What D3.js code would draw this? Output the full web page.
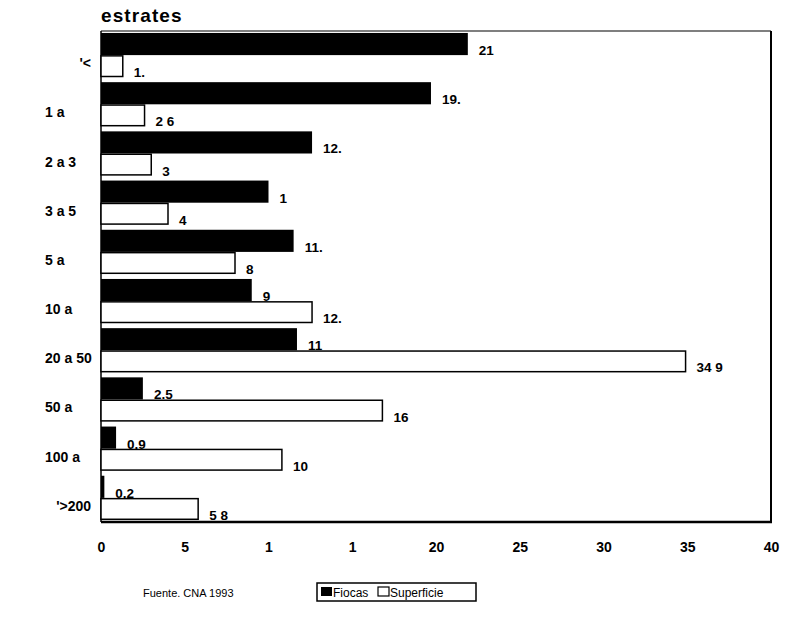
<!DOCTYPE html>
<html>
<head>
<meta charset="utf-8">
<script src="https://cdn.jsdelivr.net/npm/d3@7/dist/d3.min.js"></script>
<style>
  body { margin: 0; background: #fff; }
  svg text { font-family: "Liberation Sans", Arial, Helvetica, sans-serif; fill: #000; }
</style>
</head>
<body>
<svg id="chart" width="787" height="627"></svg>
<script>
// Size strata (ha) and the two series, in % of totals
const categories = ["'<", "1 a", "2 a 3", "3 a 5", "5 a", "10 a", "20 a 50", "50 a", "100 a", "'>200"];
const fincas = [21.9, 19.7, 12.6, 10.0, 11.5, 9.0, 11.7, 2.5, 0.9, 0.2];
const fincasLabels = ["21", "19.", "12.", "1", "11.", "9", "11", "2.5", "0.9", "0.2"];
const superficie = [1.3, 2.6, 3.0, 4.0, 8.0, 12.6, 34.9, 16.8, 10.8, 5.8];
const superficieLabels = ["1.", "2 6", "3", "4", "8", "12.", "34 9", "16", "10", "5 8"];
const xTicks = [0, 5, 10, 15, 20, 25, 30, 35, 40];
const xTickLabels = ["0", "5", "1", "1", "20", "25", "30", "35", "40"];
const seriesNames = ["Fiocas", "Superficie"];

const svg = d3.select("#chart");
const plot = { left: 101, right: 771, top: 31, bottom: 522 };

const x = d3.scaleLinear().domain([0, 40]).range([plot.left, plot.right]);
const y = d3.scaleBand().domain(categories).range([plot.top, plot.bottom])
  .paddingInner(0.1).paddingOuter(0.04);
const sub = d3.scaleBand().domain(["fincas", "superficie"]).range([0, y.bandwidth()]);

const rows = categories.map((c, i) => ({
  cat: c, f: fincas[i], fl: fincasLabels[i], s: superficie[i], sl: superficieLabels[i]
}));

// Title
svg.append("text").attr("x", plot.left).attr("y", 22)
  .attr("font-size", 19).attr("font-weight", "bold").attr("letter-spacing", 1.1)
  .text("estrates");

// Plot frame
const frame = svg.append("g").attr("fill", "none").attr("stroke", "#000");
frame.append("line").attr("x1", plot.left).attr("x2", plot.right).attr("y1", plot.top).attr("y2", plot.top).attr("stroke-width", 1.2);
frame.append("line").attr("x1", plot.right).attr("x2", plot.right).attr("y1", plot.top).attr("y2", plot.bottom).attr("stroke-width", 2);
frame.append("line").attr("x1", plot.left).attr("x2", plot.right + 1).attr("y1", plot.bottom).attr("y2", plot.bottom).attr("stroke-width", 2.5);
frame.append("line").attr("x1", plot.left).attr("x2", plot.left).attr("y1", plot.top).attr("y2", plot.bottom).attr("stroke-width", 1.5);

// Bars
const g = svg.append("g");
const groups = g.selectAll("g.row").data(rows).join("g")
  .attr("transform", d => `translate(0,${y(d.cat)})`);

groups.append("rect")
  .attr("x", x(0)).attr("y", sub("fincas"))
  .attr("width", d => x(d.f) - x(0)).attr("height", sub.bandwidth())
  .attr("fill", "#000");

groups.append("rect")
  .attr("x", x(0)).attr("y", sub("superficie") + 0.75)
  .attr("width", d => x(d.s) - x(0)).attr("height", sub.bandwidth() - 1.5)
  .attr("fill", "#fff").attr("stroke", "#000").attr("stroke-width", 1.5);

// Value labels
groups.append("text")
  .attr("x", d => x(d.f) + 11).attr("y", sub("fincas") + sub.bandwidth())
  .attr("font-size", 13.5).attr("font-weight", "bold")
  .text(d => d.fl);
groups.append("text")
  .attr("x", d => x(d.s) + 11).attr("y", sub("superficie") + sub.bandwidth())
  .attr("font-size", 13.5).attr("font-weight", "bold")
  .text(d => d.sl);

// Category labels: plain ones start at a common left edge,
// apostrophe-prefixed ones sit flush against the axis
svg.append("g").selectAll("text").data(categories).join("text")
  .attr("x", d => d.startsWith("'") ? 91 : 45)
  .attr("text-anchor", d => d.startsWith("'") ? "end" : "start")
  .attr("y", d => y(d) + y.bandwidth() / 2 + 13)
  .attr("font-size", 14).attr("font-weight", "bold")
  .text(d => d);

// X axis
const xAxis = d3.axisBottom(x).tickValues(xTicks).tickSize(0)
  .tickFormat((d, i) => xTickLabels[i]);
const ax = svg.append("g").attr("transform", `translate(0,${plot.bottom})`).call(xAxis);
ax.select(".domain").remove();
ax.selectAll("text").attr("dy", 0).attr("y", 30)
  .attr("font-size", 14).attr("font-weight", "bold")
  .attr("font-family", "Liberation Sans, Arial, sans-serif");

// Source note
svg.append("text").attr("x", 143).attr("y", 597).attr("font-size", 11)
  .text("Fuente. CNA 1993");

// Legend
const lg = svg.append("g").attr("transform", "translate(317,583)");
lg.append("rect").attr("width", 159).attr("height", 18)
  .attr("fill", "#fff").attr("stroke", "#000").attr("stroke-width", 1.5);
lg.append("rect").attr("x", 4).attr("y", 4).attr("width", 11).attr("height", 9).attr("fill", "#000");
lg.append("text").attr("x", 16).attr("y", 14).attr("font-size", 12).text(seriesNames[0]);
lg.append("rect").attr("x", 61).attr("y", 4).attr("width", 11).attr("height", 9)
  .attr("fill", "#fff").attr("stroke", "#000").attr("stroke-width", 1.2);
lg.append("text").attr("x", 73).attr("y", 14).attr("font-size", 12).text(seriesNames[1]);
</script>
</body>
</html>
